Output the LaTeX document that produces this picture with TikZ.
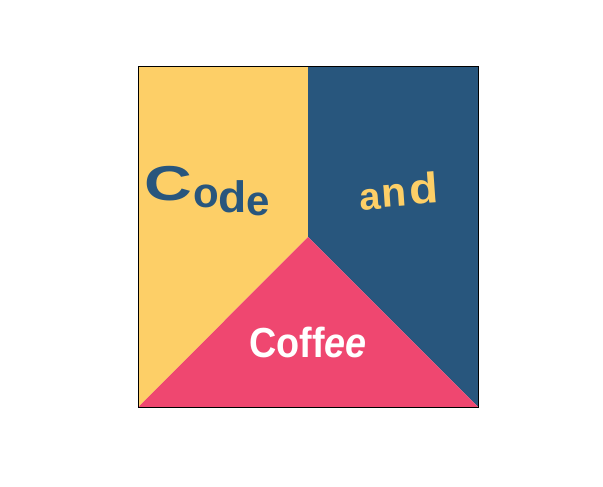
\documentclass[tikz,border=0pt]{standalone}
\usepackage{fontspec}
\setmainfont{Liberation Sans}
\definecolor{cyellow}{RGB}{253,207,103}
\definecolor{cblue}{RGB}{40,86,125}
\definecolor{cpink}{RGB}{239,71,112}
\tikzset{
  letter/.style={inner sep=0pt, anchor=base, font=\bfseries},
}
\begin{document}
\begin{tikzpicture}[x=1pt,y=-1pt]
\useasboundingbox (0,0) rectangle (603,487);
\coordinate (tl) at (138.5,67);
\coordinate (tr) at (478,67);
\coordinate (bl) at (138.5,407);
\coordinate (br) at (478,407);
\coordinate (top) at (308,67);
\coordinate (ctr) at (308,237);
\fill[cyellow] (tl) -- (top) -- (ctr) -- (bl) -- cycle;
\fill[cblue] (top) -- (tr) -- (br) -- (ctr) -- cycle;
\fill[cpink] (bl) -- (ctr) -- (br) -- cycle;
\draw[black, line width=1pt] (tl) rectangle (br);
% Code
\node[letter, text=cblue, xscale=1.35] (c1) at (168,200) {\fontsize{49}{49}\selectfont C};
\node[letter, text=cblue] (c2) at (206.5,207) {\fontsize{42}{42}\selectfont o};
\node[letter, text=cblue, xscale=1.05] (c3) at (233,212) {\fontsize{44}{44}\selectfont d};
\node[letter, text=cblue] (c4) at (258.5,215) {\fontsize{42}{42}\selectfont e};
% and
\node[letter, text=cyellow, rotate=4] (a1) at (371.5,210) {\fontsize{38}{38}\selectfont a};
\node[letter, text=cyellow, rotate=4] (a2) at (395,207) {\fontsize{41}{41}\selectfont n};
\node[letter, text=cyellow, rotate=4, xscale=1.1] (a3) at (424.5,203) {\fontsize{43}{43}\selectfont d};
% Coffee
\node[letter, text=white, xscale=0.9] (cf) at (308,357) {\fontsize{42}{42}\selectfont Coff\textit{ee}};
\end{tikzpicture}
\end{document}
